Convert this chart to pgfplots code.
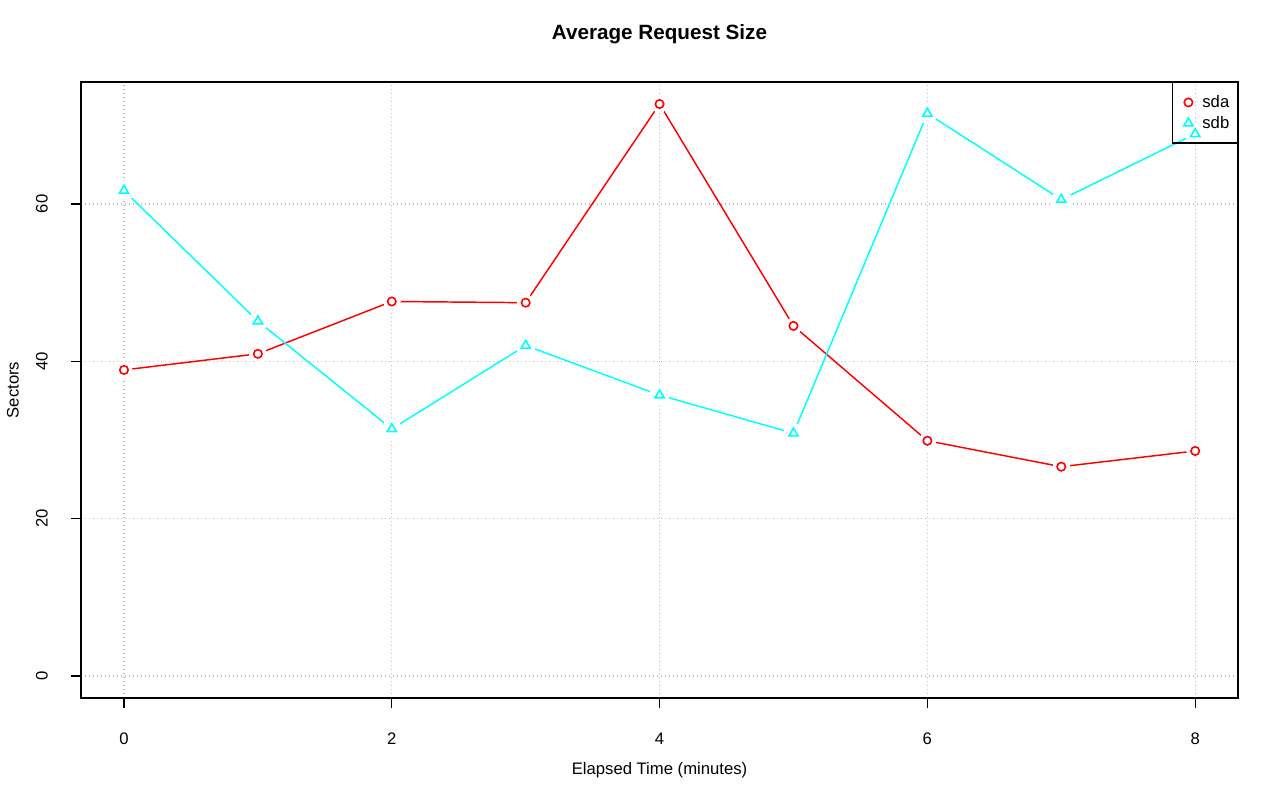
\documentclass[border=0pt]{standalone}
\usepackage{pgfplots}
\pgfplotsset{compat=1.18}
\usepackage{fontspec}
\setmainfont{Liberation Sans}
\definecolor{rred}{RGB}{255,0,0}
\definecolor{rcyan}{RGB}{0,255,255}
\definecolor{rgrid}{RGB}{190,190,190}
\pgfplotsset{myleg/.style={legend image code/.code={\path[draw=none,fill=none] (0pt,-1pt) rectangle (16.5pt,1pt); \draw[##1] plot[only marks] coordinates {(9pt,0pt)};}}}
\begin{document}
\begin{tikzpicture}
\useasboundingbox (0,0) rectangle (960pt,600.75pt);
\begin{axis}[
  at={(60.75pt,77.25pt)}, anchor=south west,
  scale only axis, width=867.75pt, height=462pt,
  xmin=-0.321, xmax=8.32, ymin=-2.8, ymax=75.5,
  xtick={0,2,4,6,8}, ytick={0,20,40,60},
  xtick pos=bottom, ytick pos=left,
  tick align=outside, major tick length=7.5pt,
  every tick/.style={black, line width=1pt},
  axis line style={line width=1.1pt},
  grid=major,
  grid style={rgrid, line width=1pt, dash pattern=on 0.9pt off 2.1pt},
  font=\fontsize{12.5}{15}\selectfont,
  /pgf/number format/assume math mode=true,
  ticklabel style={font=\fontsize{12.5}{15}\selectfont},
  xticklabel style={anchor=center, yshift=-23.25pt},
  yticklabel style={xshift=-21.75pt, rotate=90, anchor=center},
  title={Average Request Size},
  title style={at={(axis description cs:0.5,1.0649)}, anchor=center, font=\fontsize{15.5}{18}\selectfont\bfseries},
  xlabel={Elapsed Time (minutes)},
  xlabel style={at={(axis description cs:0.5,-0.1169)}, anchor=center},
  ylabel={Sectors},
  ylabel style={at={(axis description cs:-0.0588,0.5)}, anchor=center},
  legend style={at={(1,1)}, anchor=north east, draw=black, fill=none, line width=1.1pt,
    font=\fontsize{12.5}{15}\selectfont, inner xsep=3pt, inner ysep=7.5pt,
    row sep=1pt, nodes={inner xsep=3pt, inner ysep=2pt}},
  legend cell align=left,
]
% sda
\addplot[rred, line width=1.1pt, forget plot] coordinates {
(0,38.9) (1,40.95) (2,47.6) (3,47.45) (4,72.7) (5,44.5) (6,29.9) (7,26.6) (8,28.6)};
\addplot[white, only marks, mark=*, mark size=6.2pt, mark options={fill=white, draw=white, line width=0pt}, forget plot] coordinates {
(0,38.9) (1,40.95) (2,47.6) (3,47.45) (4,72.7) (5,44.5) (6,29.9) (7,26.6) (8,28.6)};
\addplot[only marks, myleg, rred, mark=o, mark size=3.15pt, mark options={line width=1.2pt}] coordinates {
(0,38.9) (1,40.95) (2,47.6) (3,47.45) (4,72.7) (5,44.5) (6,29.9) (7,26.6) (8,28.6)};
\addlegendentry{sda}
% sdb
\addplot[rcyan, line width=1.1pt, forget plot] coordinates {
(0,61.7) (1,45.1) (2,31.4) (3,42.0) (4,35.7) (5,30.85) (6,71.5) (7,60.55) (8,68.9)};
\addplot[white, only marks, mark=*, mark size=7.2pt, mark options={fill=white, draw=white, line width=0pt}, forget plot] coordinates {
(0,61.7) (1,45.1) (2,31.4) (3,42.0) (4,35.7) (5,30.85) (6,71.5) (7,60.55) (8,68.9)};
\addplot[only marks, myleg, rcyan, mark=triangle, mark size=3.95pt, mark options={line width=1.2pt}] coordinates {
(0,61.7) (1,45.1) (2,31.4) (3,42.0) (4,35.7) (5,30.85) (6,71.5) (7,60.55) (8,68.9)};
\addlegendentry{sdb}
\end{axis}
\end{tikzpicture}
\end{document}
